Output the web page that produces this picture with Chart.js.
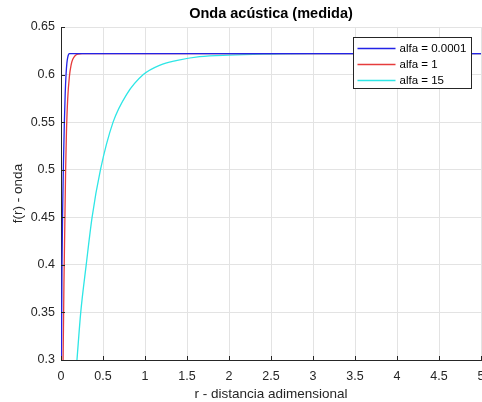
<!DOCTYPE html>
<html>
<head>
<meta charset="utf-8">
<script src="https://cdn.jsdelivr.net/npm/chart.js@4"></script>
<style>
  html, body { margin: 0; padding: 0; background: #fff; }
  #wrap { width: 482px; height: 402px; }
</style>
</head>
<body>
<div id="wrap"><canvas id="onda" width="482" height="402"></canvas></div>
<script>
// valores
var titulo = 'Onda acústica (medida)';
var labels = ['alfa = 0.0001', 'alfa = 1', 'alfa = 15'];
var xTicks = [0, 0.5, 1, 1.5, 2, 2.5, 3, 3.5, 4, 4.5, 5];
var yTicks = [0.3, 0.35, 0.4, 0.45, 0.5, 0.55, 0.6, 0.65];

var blueR = [0.005, 0.012, 0.02, 0.03, 0.04, 0.05, 0.06, 0.07, 0.08, 0.09, 0.1, 0.2, 5];
var blueF = [0.30, 0.40, 0.46, 0.51, 0.55, 0.58, 0.60, 0.612, 0.618, 0.621, 0.622, 0.622, 0.622];

var redR = [0.025, 0.035, 0.045, 0.055, 0.065, 0.08, 0.1, 0.12, 0.14, 0.17, 0.2, 0.25, 5];
var redF = [0.30, 0.38, 0.44, 0.50, 0.54, 0.575, 0.598, 0.61, 0.616, 0.62, 0.6215, 0.622, 0.622];

var cyanR = [0.19, 0.235, 0.30, 0.37, 0.47, 0.62, 0.78, 0.98, 1.18, 1.37, 1.65, 2.0, 2.5, 3.0, 5];
var cyanF = [0.30, 0.35, 0.40, 0.45, 0.50, 0.55, 0.579, 0.60, 0.61, 0.6146, 0.6188, 0.6205, 0.6215, 0.622, 0.622];

function pts(xs, ys) {
  return xs.map(function (x, i) { return { x: x, y: ys[i] }; });
}

// como matlab: 0.35, 1.5, 5 (sin ceros de relleno)
function fmt(v) { return String(+v.toFixed(2)); }

var txt = '#262626';
var fam = '"Liberation Sans", Arial, sans-serif';

// titulo centrado sobre el area, leyenda dentro, marcas hacia dentro
var matlabStuff = {
  id: 'matlabStuff',
  afterDraw: function (chart) {
    var ctx = chart.ctx;
    var xs = chart.scales.x, ys = chart.scales.y;
    var a = chart.chartArea;
    ctx.save();
    ctx.strokeStyle = txt;
    ctx.lineWidth = 1;
    ctx.beginPath();
    xTicks.forEach(function (t) {
      var px = Math.round(xs.getPixelForValue(t)) + 0.5;
      ctx.moveTo(px, a.bottom);
      ctx.lineTo(px, a.bottom - 4);
    });
    yTicks.forEach(function (t) {
      var py = Math.round(ys.getPixelForValue(t)) + 0.5;
      ctx.moveTo(a.left, py);
      ctx.lineTo(a.left + 4, py);
    });
    ctx.stroke();

    ctx.fillStyle = '#000';
    ctx.font = 'bold 14.5px ' + fam;
    ctx.textAlign = 'center';
    ctx.textBaseline = 'middle';
    ctx.fillText(titulo, (a.left + a.right) / 2, 14);

    // caja de la leyenda
    var bx = 353.5, by = 37.5, bw = 118, bh = 51;
    ctx.fillStyle = '#fff';
    ctx.fillRect(bx, by, bw, bh);
    ctx.strokeStyle = txt;
    ctx.strokeRect(bx, by, bw, bh);
    ctx.font = '11.5px ' + fam;
    ctx.textAlign = 'left';
    chart.data.datasets.forEach(function (ds, i) {
      var yy = by + 11 + i * 16;
      ctx.strokeStyle = ds.borderColor;
      ctx.lineWidth = 1.3;
      ctx.beginPath();
      ctx.moveTo(bx + 4, yy);
      ctx.lineTo(bx + 42, yy);
      ctx.stroke();
      ctx.fillStyle = '#000';
      ctx.fillText(ds.label, bx + 46, yy + 0.5);
    });
    ctx.restore();
  }
};

var myChart = new Chart(document.getElementById('onda'), {
  type: 'line',
  data: {
    datasets: [{
      label: labels[0],
      data: pts(blueR, blueF),
      borderColor: '#2323e6',
      borderWidth: 1.3,
      pointRadius: 0,
      cubicInterpolationMode: 'monotone'
    }, {
      label: labels[1],
      data: pts(redR, redF),
      borderColor: '#e63c3c',
      borderWidth: 1.3,
      pointRadius: 0,
      cubicInterpolationMode: 'monotone'
    }, {
      label: labels[2],
      data: pts(cyanR, cyanF),
      borderColor: '#2ee6e6',
      borderWidth: 1.3,
      pointRadius: 0,
      cubicInterpolationMode: 'monotone'
    }]
  },
  options: {
    responsive: false,
    animation: false,
    layout: { padding: { left: 0, right: 1, top: 27, bottom: 0 } },
    scales: {
      x: {
        type: 'linear',
        min: 0,
        max: 5,
        afterBuildTicks: function (s) { s.ticks = xTicks.map(function (v) { return { value: v }; }); },
        afterFit: function (s) { s.height = 42; s.paddingLeft = 0; s.paddingRight = 0; },
        grid: { color: '#e3e3e3', drawTicks: false },
        border: { color: txt, width: 1 },
        ticks: {
          color: txt, font: { family: fam, size: 12.5 }, padding: 9, maxRotation: 0, autoSkip: false,
          callback: function (v) { return fmt(v); }
        },
        title: {
          display: true,
          text: 'r - distancia adimensional',
          color: txt,
          font: { family: fam, size: 13.5 },
          padding: { top: 0, bottom: 0 }
        }
      },
      y: {
        min: 0.3,
        max: 0.65,
        afterBuildTicks: function (s) { s.ticks = yTicks.map(function (v) { return { value: v }; }); },
        afterFit: function (s) { s.width = 61; s.paddingTop = 0; s.paddingBottom = 0; },
        grid: { color: '#e3e3e3', drawTicks: false },
        border: { color: txt, width: 1 },
        ticks: {
          color: txt, font: { family: fam, size: 12.5 }, padding: 6, autoSkip: false,
          callback: function (v) { return fmt(v); }
        },
        title: {
          display: true,
          text: 'f(r) - onda',
          color: txt,
          font: { family: fam, size: 13.5 },
          padding: { top: 10, bottom: 4 }
        }
      }
    },
    plugins: {
      legend: { display: false },
      tooltip: { enabled: false },
      title: { display: false }
    }
  },
  plugins: [matlabStuff]
});
</script>
</body>
</html>
